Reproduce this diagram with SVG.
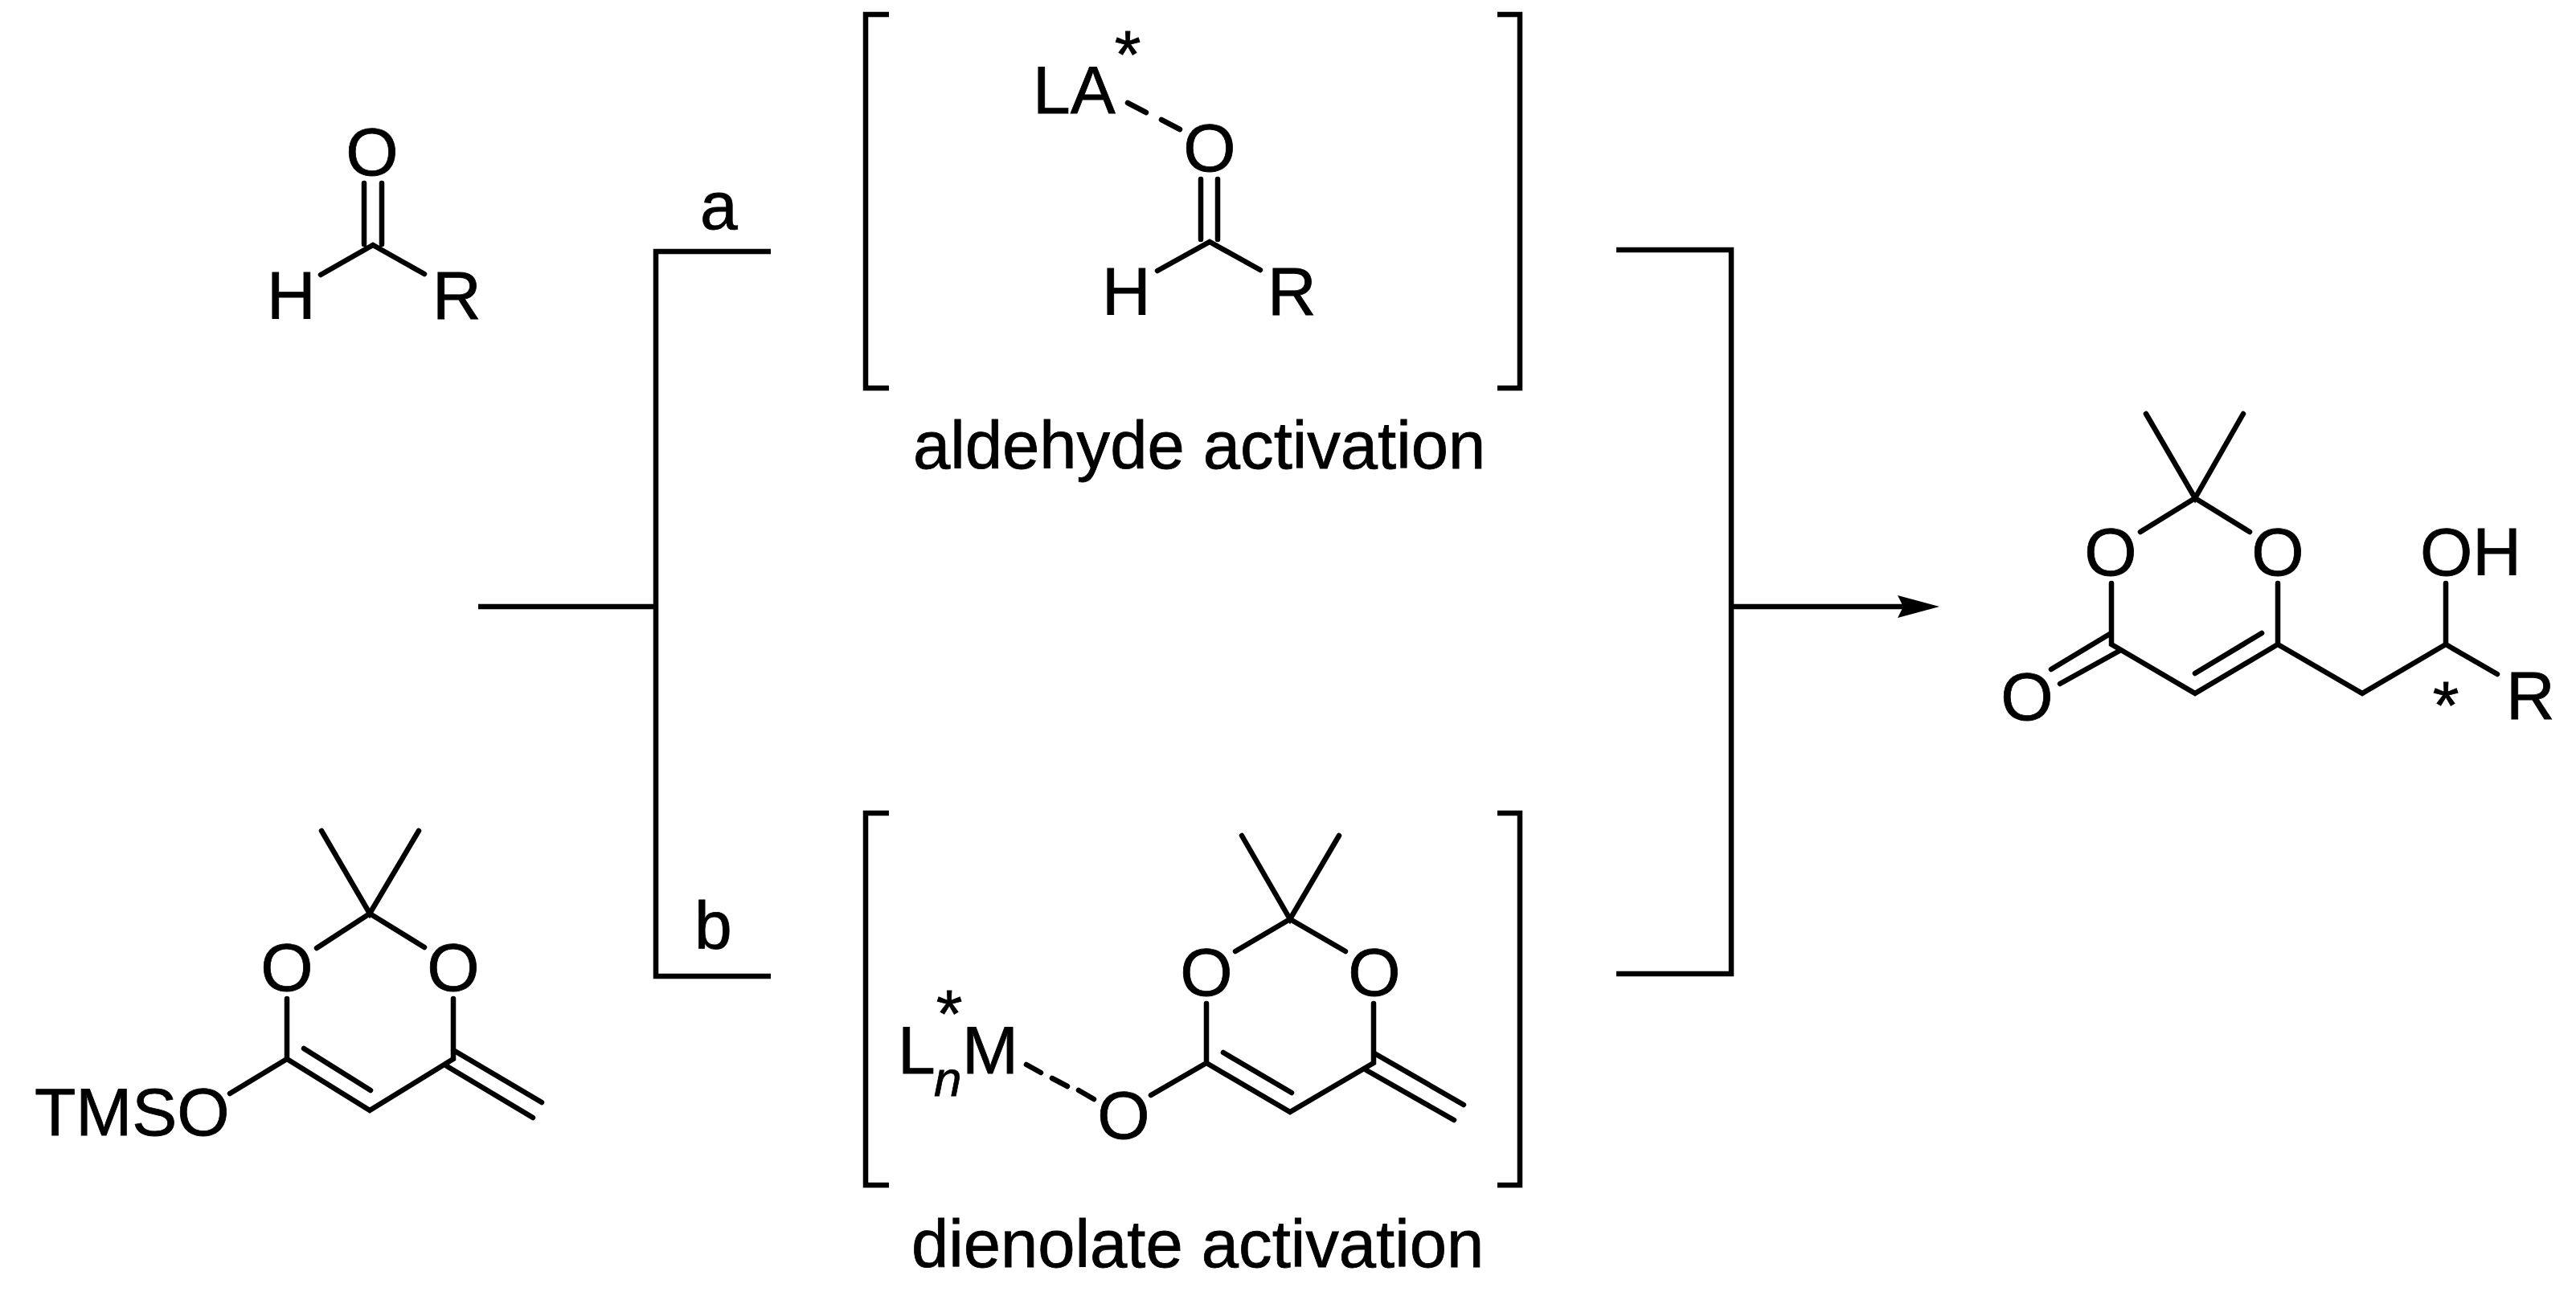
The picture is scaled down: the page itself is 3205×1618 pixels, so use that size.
<svg xmlns="http://www.w3.org/2000/svg" width="3205" height="1618" viewBox="0 0 3205 1618">
<style>
.b{fill:none;stroke:#000;stroke-width:6.5;stroke-linecap:round;stroke-linejoin:miter}
.c{fill:none;stroke:#000;stroke-width:6.5;stroke-linecap:butt;stroke-linejoin:miter}
text{font-family:"Liberation Sans",Arial,sans-serif;font-size:84px;fill:#000;stroke:#000;stroke-width:.8}
.m{text-anchor:middle}
.n{font-style:italic;font-size:62px}
.t{font-size:83.2px}
</style>
<defs>
<marker id="ah" markerUnits="userSpaceOnUse" markerWidth="60" markerHeight="34" refX="7" refY="14" orient="auto"><path d="M0,0L52,14L0,28L7,14Z" fill="#000"/></marker>
</defs>
<rect width="3205" height="1618" fill="#fff"/>
<g id="connectors">
<path class="c" d="M959,313H816V1215H959"/>
<path class="c" d="M595,755H816"/>
<path class="c" d="M2011,311H2154V1212H2011"/>
<path class="c" d="M2154,755H2368" marker-end="url(#ah)"/>
</g>
<g id="label-a"><text x="871" y="285">a</text></g>
<g id="label-b"><text x="864" y="1181">b</text></g>
<g id="aldehyde">
<path class="b" d="M453,228V304M475,228V304M399,342L464,305L528,341"/>
<text class="m" x="463" y="218">O</text>
<text x="332" y="397">H</text>
<text x="538" y="397">R</text>
</g>
<g id="silyl-dienolate">
<path class="b" d="M400,1034L460,1137L521,1034M394,1180L460,1137L528,1179M357,1243V1318L460,1382L564,1318V1243M378,1305L461,1357M357,1318L286,1361M564,1307L674,1372M556,1327L663,1391"/>
<text class="m" x="357" y="1233">O</text>
<text class="m" x="564" y="1233">O</text>
<text x="43" y="1413">TMSO</text>
</g>
<g id="aldehyde-activation">
<path class="c" d="M1106,18H1077V483H1106M1863,18H1891V483H1863"/>
<path class="b" d="M1403,128L1426,140M1445,149L1468,161M1494,223V298M1515,223V298M1440,337L1505,301L1568,336"/>
<text x="1285" y="141">LA</text>
<text class="m" x="1403" y="97">*</text>
<text class="m" x="1505" y="213">O</text>
<text x="1371" y="392">H</text>
<text x="1577" y="392">R</text>
<text class="t" x="1136" y="583">aldehyde activation</text>
</g>
<g id="dienolate-activation">
<path class="c" d="M1106,1012H1077V1475H1106M1863,1012H1891V1475H1863"/>
<path class="b" d="M1545,1040L1605,1144L1666,1040M1537,1184L1605,1144L1674,1184M1501,1249V1323L1605,1384L1709,1323V1249M1522,1310L1607,1360M1501,1323L1432,1363M1710,1311L1821,1375M1700,1332L1809,1394M1277,1325L1295,1335M1309,1342L1328,1352M1342,1357L1361,1368"/>
<text class="m" x="1501" y="1239">O</text>
<text class="m" x="1710" y="1239">O</text>
<text class="m" x="1398" y="1417">O</text>
<text x="1117" y="1336">L</text>
<text class="n" x="1162" y="1364">n</text>
<text x="1197" y="1336">M</text>
<text class="m" x="1181" y="1291">*</text>
<text class="t" x="1134" y="1577">dienolate activation</text>
</g>
<g id="product">
<path class="b" d="M2670,515L2731,620L2791,515M2663,662L2731,620L2799,662M2627,726V802L2731,863L2834,802V726M2731,838L2814,788M2625,789L2552,833M2637,810L2563,851M2834,802L2939,863L3043,802V726M3043,802L3107,839"/>
<text class="m" x="2626" y="716">O</text>
<text class="m" x="2834" y="716">O</text>
<text x="3011" y="716">OH</text>
<text class="m" x="2522" y="896">O</text>
<text class="m" x="3043" y="907">*</text>
<text x="3118" y="895">R</text>
</g>
</svg>
